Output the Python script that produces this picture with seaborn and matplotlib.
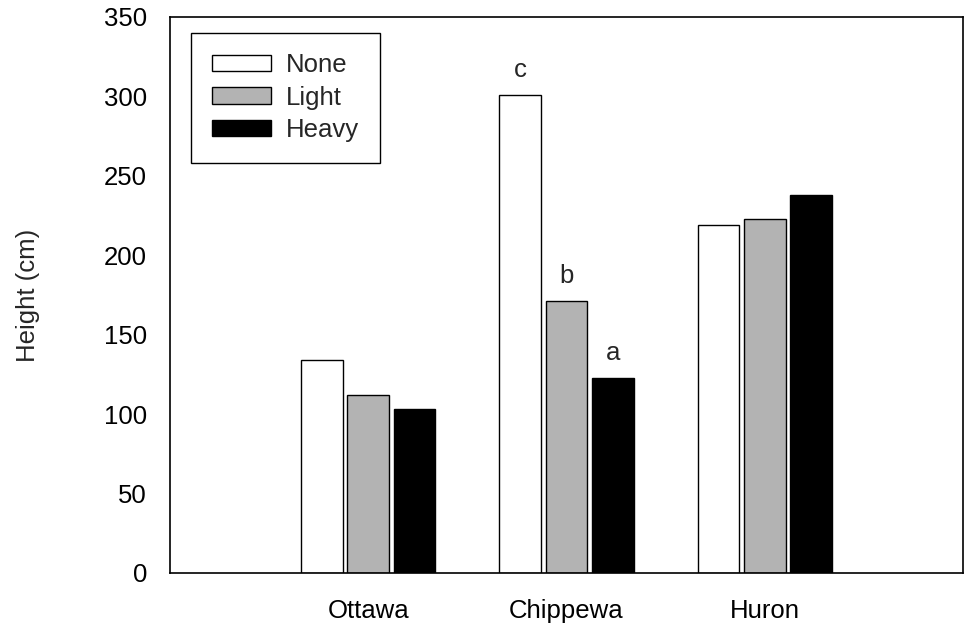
import matplotlib
matplotlib.use("Agg")
import matplotlib.pyplot as plt
import seaborn as sns
import pandas as pd

sites = ["Ottawa", "Chippewa", "Huron"]
treatments = ["None", "Light", "Heavy"]
none_vals = [134, 301, 219]
light_vals = [112, 171, 223]
heavy_vals = [103, 123, 238]
sig_letters = {("Chippewa", "None"): "c", ("Chippewa", "Light"): "b", ("Chippewa", "Heavy"): "a"}
colors = ["#ffffff", "#b3b3b3", "#000000"]

rows = []
for t, vals in zip(treatments, [none_vals, light_vals, heavy_vals]):
    for s, v in zip(sites, vals):
        rows.append({"Site": s, "Treatment": t, "Height": v})
df = pd.DataFrame(rows)

sns.set_style("white")
plt.rcParams["font.family"] = ["Liberation Sans", "DejaVu Sans"]
FS = 18.5

fig = plt.figure(figsize=(9.64, 6.34), dpi=100)
ax = fig.add_axes([170/964, (634-573)/634, (963-170)/964, (573-17)/634])

sns.barplot(data=df, x="Site", y="Height", hue="Treatment", order=sites,
            hue_order=treatments, palette=colors, width=0.7, gap=0.1,
            edgecolor="black", linewidth=1.0, saturation=1, ax=ax, legend=True)

ax.set_xlim(-1.0, 3.0)
ax.set_ylim(0, 350)
ax.set_yticks(range(0, 351, 50))
ax.set_xlabel("")
ax.set_ylabel("Height (cm)", fontsize=FS, labelpad=46)
ax.tick_params(axis="both", direction="out", length=5.5, width=1, color="black",
               labelsize=FS, labelcolor="black")
ax.tick_params(axis="y", pad=11)
ax.tick_params(axis="x", pad=13)
for sp in ax.spines.values():
    sp.set_visible(True)
    sp.set_color("black")
    sp.set_linewidth(1.2)

# significance letters above Chippewa bars
for i, t in enumerate(treatments):
    cont = ax.containers[i]
    for j, s in enumerate(sites):
        key = (s, t)
        if key in sig_letters:
            p = cont.patches[j]
            ax.annotate(sig_letters[key], (p.get_x() + p.get_width()/2, p.get_height()),
                        xytext=(0, 18), textcoords="offset points",
                        ha="center", va="center", fontsize=FS)

handles, labels = ax.get_legend_handles_labels()
leg = ax.legend(handles, labels, loc="upper left", bbox_to_anchor=(0.0265, 0.972),
                borderaxespad=0, fontsize=FS, frameon=True, fancybox=False,
                edgecolor="black", framealpha=1, handlelength=2.33, handleheight=0.62,
                handletextpad=0.58, labelspacing=0.33, borderpad=0.8)
leg.get_frame().set_linewidth(1.0)

fig.savefig("out.png", dpi=100)
